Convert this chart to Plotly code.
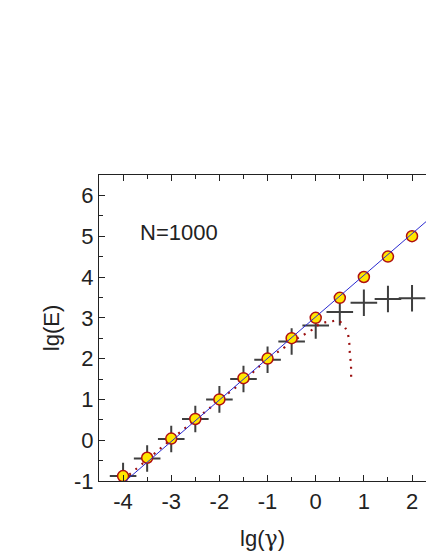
"""lg(E) versus lg(gamma) for N=1000."""

import plotly.graph_objects as go

FONT = "Liberation Sans, Arial, sans-serif"
INK = "#222222"

# circles: exact energy
lg_gamma = [-4, -3.5, -3, -2.5, -2, -1.5, -1, -0.5, 0, 0.5, 1, 1.5, 2]
lg_e_exact = [-0.88, -0.43, 0.04, 0.52, 1.0, 1.52, 2.0, 2.5, 3.0, 3.49, 4.0, 4.5, 5.0]

# crosses: simulated energy
lg_e_sim = [-0.88, -0.45, 0.03, 0.52, 1.0, 1.5, 1.97, 2.42, 2.81, 3.14, 3.37, 3.46, 3.48]

# straight blue fit line
fit_x = [-3.95, 2.5]
fit_y = [-1.0, 5.57]

# dotted approximation that diverges near lg(gamma) ~ 0.74
approx_x = [-4.0, -3.5, -3.0, -2.5, -2.0, -1.5, -1.15, -0.88, -0.74, -0.43, -0.29,
            -0.13, 0.02, 0.16, 0.32, 0.47, 0.63, 0.68, 0.70, 0.71, 0.73, 0.735, 0.735]
approx_y = [-0.97, -0.48, 0.02, 0.5, 0.98, 1.45, 1.83, 2.09, 2.20, 2.46, 2.56,
            2.66, 2.80, 2.88, 2.91, 2.93, 2.72, 2.54, 2.34, 2.09, 1.89, 1.68, 1.47]

x_ticks = [-4, -3, -2, -1, 0, 1, 2]
y_ticks = [-1, 0, 1, 2, 3, 4, 5, 6]

fig = go.Figure()
fig.add_trace(go.Scatter(
    x=lg_gamma, y=lg_e_sim, mode="markers",
    marker={"symbol": "cross-thin", "size": 19,
            "line": {"color": "#3f3f3f", "width": 2}},
))
fig.add_trace(go.Scatter(
    x=approx_x, y=approx_y, mode="lines",
    line={"color": "#9b1010", "width": 2.2, "dash": "2px,6px", "shape": "spline"},
))
fig.add_trace(go.Scatter(
    x=lg_gamma, y=lg_e_exact, mode="markers",
    marker={"symbol": "circle", "size": 11, "color": "#ffe600",
            "line": {"color": "#b01010", "width": 1.5}},
))
fig.add_trace(go.Scatter(
    x=fit_x, y=fit_y, mode="lines",
    line={"color": "#2a2ad0", "width": 1},
))

fig.add_annotation(
    x=-3.68, y=5.08, xref="x", yref="y", text="N=1000", showarrow=False,
    xanchor="left", yanchor="middle", font={"size": 22, "color": INK, "family": FONT},
)

fig.update_layout(
    width=426, height=552,
    margin={"l": 99, "r": 0, "t": 175, "b": 71},
    paper_bgcolor="white", plot_bgcolor="white",
    showlegend=False,
    font={"family": FONT, "size": 22, "color": INK},
)
fig.update_xaxes(
    range=[-4.5, 2.29], tickvals=x_ticks, ticktext=[str(v) for v in x_ticks],
    ticks="inside", ticklen=6, tickwidth=1, tickcolor=INK,
    minor={"dtick": 0.5, "tick0": 0, "ticks": "inside", "ticklen": 3.5,
           "tickcolor": INK, "showgrid": False},
    showline=True, linecolor=INK, linewidth=1.2, mirror="ticks",
    showgrid=False, zeroline=False,
    title={"text": "lg(<span style='font-family:DejaVu Serif'>γ</span>)",
           "standoff": 18, "font": {"size": 22}},
)
fig.update_yaxes(
    range=[-1, 6.5], tickvals=y_ticks, ticktext=[str(v) for v in y_ticks],
    ticks="inside", ticklen=6, tickwidth=1, tickcolor=INK,
    minor={"dtick": 0.5, "tick0": 0, "ticks": "inside", "ticklen": 3.5,
           "tickcolor": INK, "showgrid": False},
    showline=True, linecolor=INK, linewidth=1.2, mirror=False,
    showgrid=False, zeroline=False,
    title={"text": "lg(E)", "standoff": 8, "font": {"size": 22}},
)

fig.write_html(
    "out.html",
    config={"displayModeBar": False},
    post_script="document.body.style.margin = '0';",
)
